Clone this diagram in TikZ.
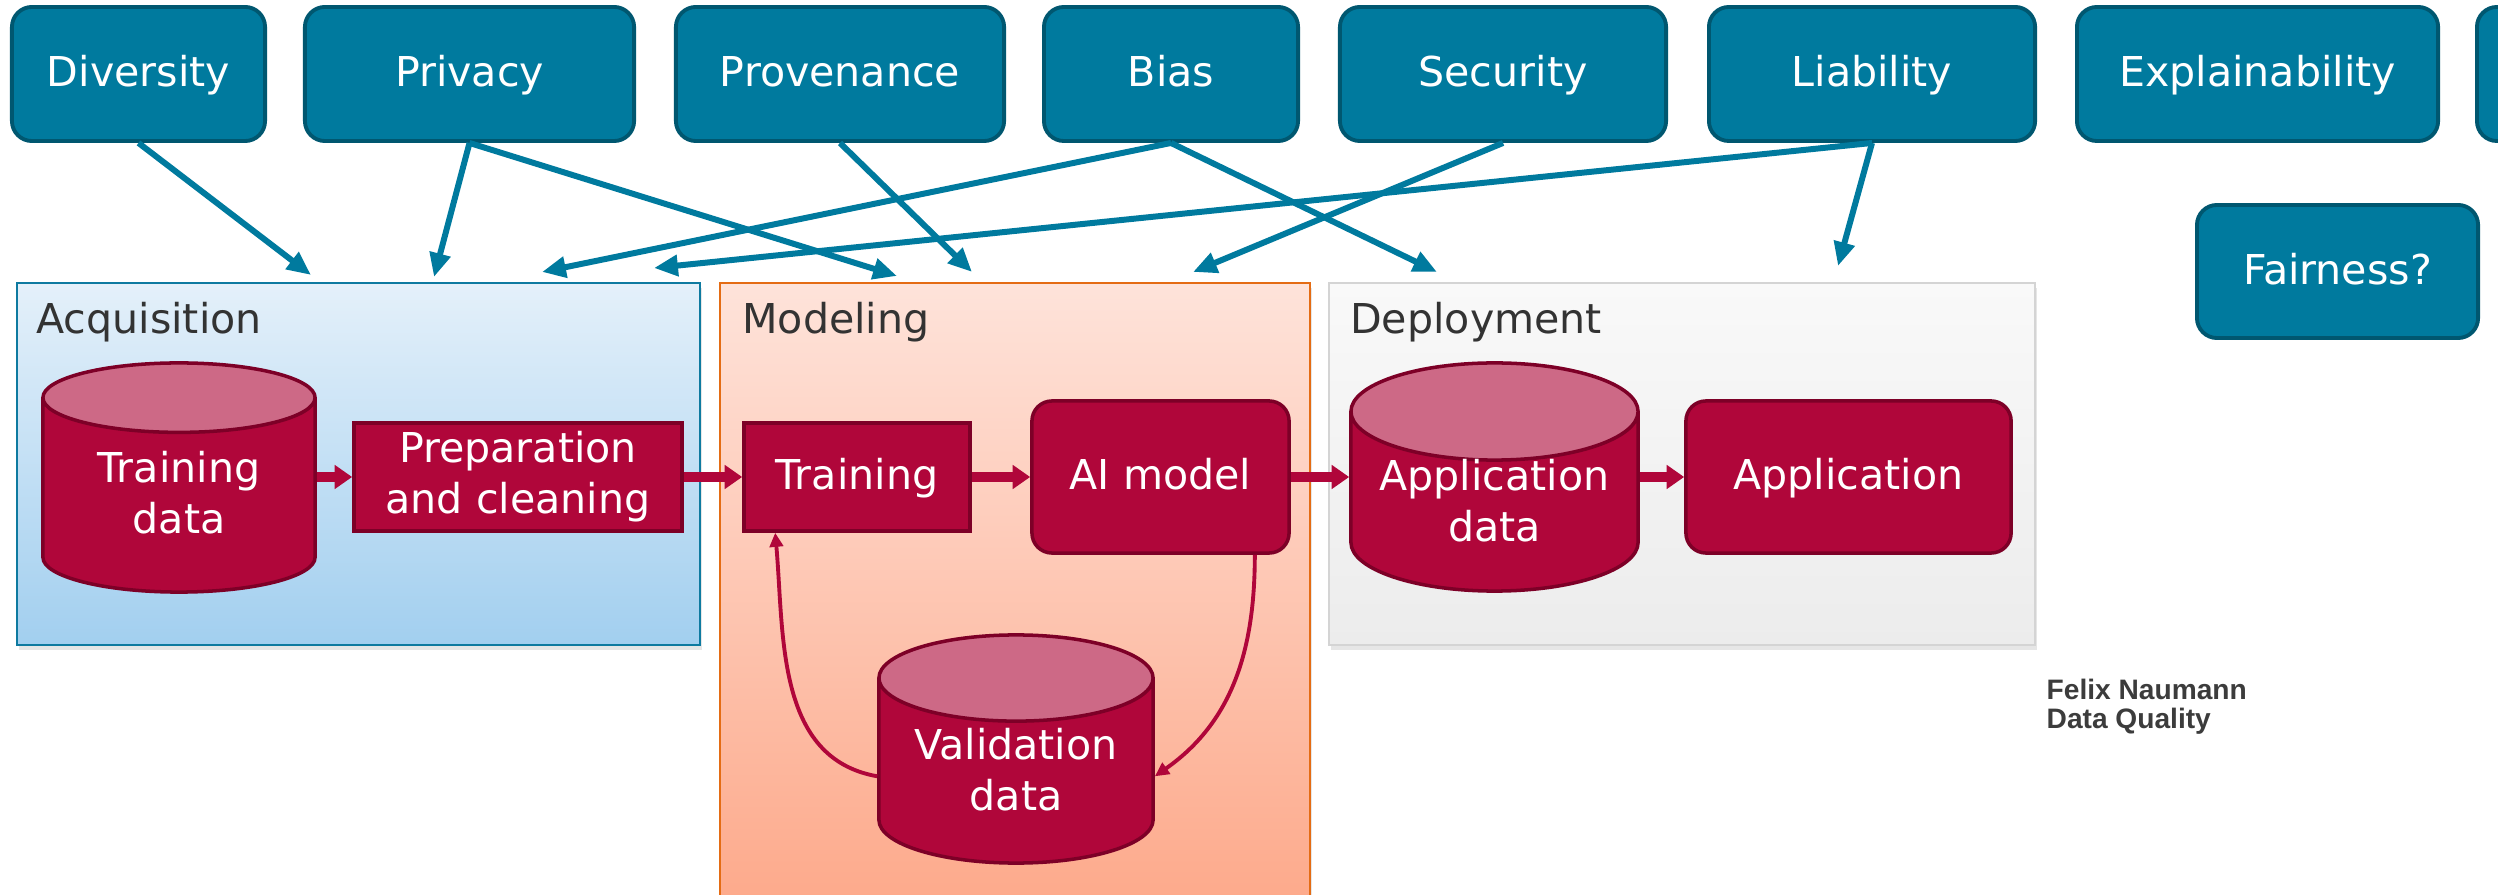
\documentclass[tikz,border=0pt]{standalone}
\usepackage{fontspec}
\setmainfont{DejaVu Sans}
\newfontfamily\notefont{Liberation Sans}
\usetikzlibrary{shapes.geometric, arrows.meta, shadows}

\definecolor{tealbox}{RGB}{0,122,158}
\definecolor{tealdark}{RGB}{0,87,112}
\definecolor{redbox}{RGB}{176,6,58}
\definecolor{reddark}{RGB}{125,0,39}
\definecolor{redtop}{RGB}{205,105,134}
\definecolor{acqtop}{RGB}{228,240,250}
\definecolor{acqbottom}{RGB}{162,207,239}
\definecolor{acqline}{RGB}{14,122,160}
\definecolor{modtop}{RGB}{254,227,218}
\definecolor{modbottom}{RGB}{253,168,137}
\definecolor{modline}{RGB}{228,108,20}
\definecolor{deptop}{RGB}{249,249,249}
\definecolor{depbottom}{RGB}{236,236,236}
\definecolor{depline}{RGB}{212,212,212}
\definecolor{labelgray}{RGB}{51,51,51}
\definecolor{notegray}{RGB}{60,60,60}

\begin{document}
\begin{tikzpicture}[x=0.01cm, y=-0.01cm,
    every node/.style={font=\fontsize{11.7}{14.5}\selectfont},
    oneline/.style={text height=0.95em, text depth=0.22em},
    twolines/.style={text height=2.1em, text depth=0pt},
    concern/.style={rectangle, rounded corners=0.2cm, draw=tealdark, line width=1.1pt,
      fill=tealbox, text=white, minimum height=1.34cm, oneline},
    stage/.style={rectangle, line width=0.7pt,
      drop shadow={opacity=0.2, shadow xshift=0.02cm, shadow yshift=-0.05cm}},
    stagename/.style={anchor=base west, text=labelgray, inner sep=0pt},
    store/.style={cylinder, shape border rotate=90, aspect=0.41, draw=reddark, line width=1pt,
      cylinder uses custom fill, cylinder body fill=redbox, cylinder end fill=redtop,
      text=white, align=center, inner sep=1pt, text height=1.95em, text depth=0pt,
      anchor=shape center},
    task/.style={rectangle, draw=reddark, line width=1pt, fill=redbox, text=white, align=center},
    flowarrow/.style={redbox, line width=2.8pt, -{Triangle[length=5pt,width=6.6pt]}},
    loopback/.style={redbox, line width=1.1pt, -{Triangle[length=4pt,width=3.8pt]}},
    concernarrow/.style={tealbox, line width=1.7pt, -{Triangle[length=6.8pt,width=5.8pt]}}]
\useasboundingbox (0,0) rectangle (2498,895);

% stages
\node[stage, draw=acqline, top color=acqtop, bottom color=acqbottom,
  minimum width=6.83cm, minimum height=3.62cm] (acq) at (358.5,464) {};
\node[stage, draw=modline, top color=modtop, bottom color=modbottom,
  minimum width=5.90cm, minimum height=6.37cm] (mod) at (1015,601.5) {};
\node[stage, draw=depline, top color=deptop, bottom color=depbottom,
  minimum width=7.06cm, minimum height=3.62cm] (dep) at (1682,464) {};
\node[stagename] (acqname) at ([shift={(20,52)}]acq.north west) {Acquisition};
\node[stagename] (modname) at ([shift={(23,52)}]mod.north west) {Modeling};
\node[stagename] (depname) at ([shift={(22,52)}]dep.north west) {Deployment};

% pipeline
\node[store, minimum width=2.72cm, minimum height=2.29cm] (tdata) at (179,477.5) {Training\\data};
\node[task, twolines, minimum width=3.28cm, minimum height=1.08cm] (prep) at (518,477) {Preparation\\and cleaning};
\node[task, oneline, minimum width=2.26cm, minimum height=1.08cm] (train) at (857,477) {Training};
\node[task, oneline, rounded corners=0.2cm, minimum width=2.57cm, minimum height=1.52cm] (model) at (1160.5,477) {AI model};
\node[store, minimum width=2.74cm, minimum height=2.28cm] (vdata) at (1016,749) {Validation\\data};
\node[store, minimum width=2.87cm, minimum height=2.28cm] (adata) at (1494.5,477) {Application\\data};
\node[task, oneline, rounded corners=0.2cm, minimum width=3.25cm, minimum height=1.52cm] (app) at (1848.5,477) {Application};

\draw[flowarrow] (prep.west -| tdata.east) -- (prep.west);
\draw[flowarrow] (prep.east) -- (train.west);
\draw[flowarrow] (train.east) -- (model.west);
\draw[flowarrow] (model.east) -- (model.east -| adata.west);
\draw[flowarrow] (app.west -| adata.east) -- (app.west);
\draw[loopback] (vdata.west) to[out=170, in=-85] ([xshift=0.33cm]train.south west);
\draw[loopback] ([xshift=-0.36cm]model.south east) to[out=-90, in=35] (vdata.east);

% concerns
\node[concern, minimum width=2.53cm] (div) at (138.5,74) {Diversity};
\node[concern, minimum width=3.29cm] (priv) at (469.5,74) {Privacy};
\node[concern, minimum width=3.28cm] (prov) at (840,74) {Provenance};
\node[concern, minimum width=2.54cm] (bias) at (1171,74) {Bias};
\node[concern, minimum width=3.26cm] (sec) at (1503,74) {Security};
\node[concern, minimum width=3.26cm] (liab) at (1872,74) {Liability};
\node[concern, minimum width=3.61cm] (expl) at (2257.5,74) {Explainability};
\node[concern, minimum width=3.20cm] (more) at (2637,74) {};
\node[concern, minimum width=2.81cm, minimum height=1.33cm] (fair) at (2337.5,271.5) {Fairness?};

\coordinate (acq1) at (311,275);
\coordinate (acq2) at (434,277);
\coordinate (acq3) at (542,272);
\coordinate (acq4) at (654,268);
\coordinate (mod1) at (897,276);
\coordinate (mod2) at (972,272);
\coordinate (mod3) at (1193,272);
\coordinate (dep1) at (1437,272);
\coordinate (dep2) at (1838,266);

\draw[concernarrow] (div.south) -- (acq1);
\draw[concernarrow] (priv.south) -- (acq2);
\draw[concernarrow] (priv.south) -- (mod1);
\draw[concernarrow] (prov.south) -- (mod2);
\draw[concernarrow] (bias.south) -- (acq3);
\draw[concernarrow] (bias.south) -- (dep1);
\draw[concernarrow] (sec.south) -- (mod3);
\draw[concernarrow] (liab.south) -- (acq4);
\draw[concernarrow] (liab.south) -- (dep2);

\node[anchor=north west, inner sep=0pt, align=left, text=notegray,
  font=\notefont\bfseries\fontsize{8}{8.5}\selectfont] (credit) at (2046,678) {Felix Naumann\\Data Quality};
\end{tikzpicture}
\end{document}
